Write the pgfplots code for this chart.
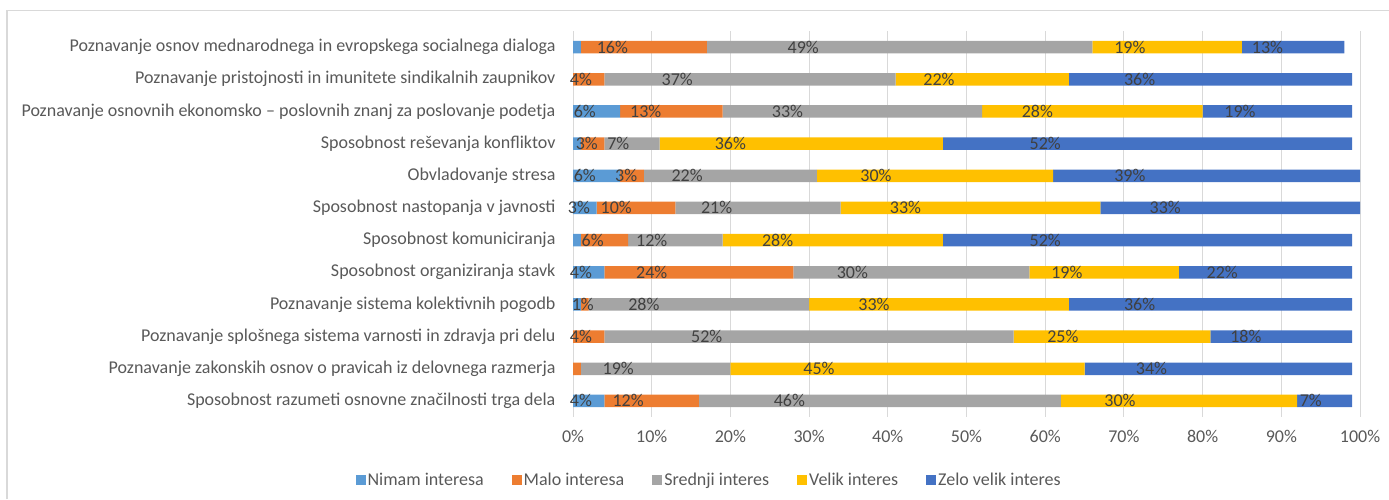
\documentclass[border=0pt]{standalone}
\usepackage{fontspec}
\setmainfont{Carlito}
\usepackage{pgfplots}
\pgfplotsset{compat=1.18}
\definecolor{cA}{HTML}{5B9BD5}
\definecolor{cB}{HTML}{ED7D31}
\definecolor{cC}{HTML}{A5A5A5}
\definecolor{cD}{HTML}{FFC000}
\definecolor{cE}{HTML}{4472C4}
\definecolor{tickgray}{HTML}{595959}
\definecolor{labgray}{HTML}{404040}
\definecolor{gridgray}{HTML}{D9D9D9}
\newcommand\cf{\fontsize{18pt}{21pt}\selectfont}
\begin{document}
\begin{tikzpicture}[x=1pt,y=1pt]
\useasboundingbox (0,0) rectangle (1389,-499);
\draw[color=gridgray, line width=1.2pt] (7,-499) -- (7,-10.5) -- (1389,-10.5);
\begin{axis}[
  at={(573pt,-417pt)}, anchor=south west,
  width=787pt, height=386pt, scale only axis,
  xbar stacked, bar width=12.5pt,
  xmin=0, xmax=100, enlarge x limits=false,
  ymin=-0.5, ymax=11.5, y dir=reverse,
  clip=false,
  axis line style={draw=none},
  tick style={draw=none},
  xmajorgrids, major grid style={color=gridgray, line width=1pt},
  xtick={0,10,...,100},
  xticklabels={0\%,10\%,20\%,30\%,40\%,50\%,60\%,70\%,80\%,90\%,100\%},
  xticklabel style={font=\cf, text=tickgray, yshift=-10pt},
  ytick={0,...,11},
  yticklabels={
    Poznavanje osnov mednarodnega in evropskega socialnega dialoga,
    Poznavanje pristojnosti in imunitete sindikalnih zaupnikov,
    Poznavanje osnovnih ekonomsko – poslovnih znanj za poslovanje podetja,
    Sposobnost reševanja konfliktov,
    Obvladovanje stresa,
    Sposobnost nastopanja v javnosti,
    Sposobnost komuniciranja,
    Sposobnost organiziranja stavk,
    Poznavanje sistema kolektivnih pogodb,
    Poznavanje splošnega sistema varnosti in zdravja pri delu,
    Poznavanje zakonskih osnov o pravicah iz delovnega razmerja,
    Sposobnost razumeti osnovne značilnosti trga dela},
  yticklabel style={font=\cf, text=tickgray, xshift=-14pt},
  every axis plot/.append style={draw=none,
    legend image code/.code={\fill[##1] (0pt,-5pt) rectangle (10pt,5pt);}},
  visualization depends on={rawx \as \rawx},
  visualization depends on={value \thisrow{l} \as \lab},
  nodes near coords={\ifnum\lab>0 \lab\%\fi},
  nodes near coords style={anchor=center, font=\cf, text=labgray, xshift={-1.9675pt*\rawx}},
  legend columns=5,
  legend style={at={(rel axis cs:0.173,-0.163)}, anchor=center, draw=none, fill=none,
    font=\cf, text=tickgray,
    /tikz/every even column/.append style={column sep=26pt}},
]
\addplot[fill=cA] table[x=v,y=r] {
r v l
0 1 0
1 0 0
2 6 6
3 1 0
4 6 6
5 3 3
6 1 0
7 4 4
8 1 0
9 0 0
10 0 0
11 4 4
};
\addlegendentry{Nimam interesa}
\addplot[fill=cB] table[x=v,y=r] {
r v l
0 16 16
1 4 4
2 13 13
3 3 3
4 3 3
5 10 10
6 6 6
7 24 24
8 1 1
9 4 4
10 1 0
11 12 12
};
\addlegendentry{Malo interesa}
\addplot[fill=cC] table[x=v,y=r] {
r v l
0 49 49
1 37 37
2 33 33
3 7 7
4 22 22
5 21 21
6 12 12
7 30 30
8 28 28
9 52 52
10 19 19
11 46 46
};
\addlegendentry{Srednji interes}
\addplot[fill=cD] table[x=v,y=r] {
r v l
0 19 19
1 22 22
2 28 28
3 36 36
4 30 30
5 33 33
6 28 28
7 19 19
8 33 33
9 25 25
10 45 45
11 30 30
};
\addlegendentry{Velik interes}
\addplot[fill=cE] table[x=v,y=r] {
r v l
0 13 13
1 36 36
2 19 19
3 52 52
4 39 39
5 33 33
6 52 52
7 22 22
8 36 36
9 18 18
10 34 34
11 7 7
};
\addlegendentry{Zelo velik interes}
\end{axis}
\end{tikzpicture}
\end{document}
